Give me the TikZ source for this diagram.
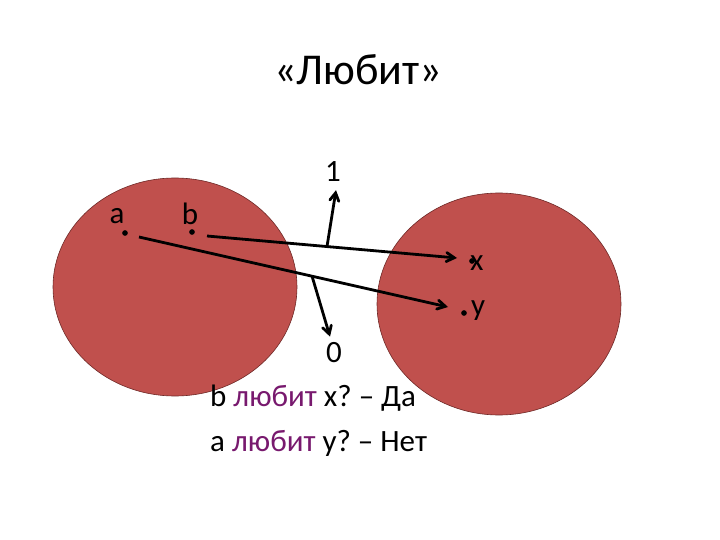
\documentclass[tikz,border=0pt]{standalone}
\usepackage{fontspec}
\setmainfont{Carlito}
\usetikzlibrary{calc}
\usetikzlibrary{arrows}
\usetikzlibrary{positioning}
\definecolor{set-red}{RGB}{192,80,77}
\definecolor{set-edge}{RGB}{110,40,38}
\definecolor{love-purple}{RGB}{120,25,110}
\frenchspacing

\begin{document}
\begin{tikzpicture}
  [
    x=1pt, y=-1pt,
    set/.style = {draw=set-edge, line width=0.6pt, fill=set-red},
    point/.style = {circle, fill=black, inner sep=2pt},
    lbl/.style = {font=\fontsize{31}{37}\selectfont, inner sep=0pt},
    map/.style = {->, >=angle 60, line width=2.8pt}
  ]
\useasboundingbox[fill=white] (0, 0) rectangle (720, 540);
% Title
\node[font=\fontsize{44}{52}\selectfont] (title) at (358, 70) {«Любит»};

% ---------------------------------------------------
% Sets
\draw[set] (175, 287) ellipse [x radius=122, y radius=109];
\draw[set] (499, 304) ellipse [x radius=122, y radius=111];

% Elements
\node[point] (a) at (125, 233) {};
\node[point] (b) at (192, 232) {};
\node[point] (x) at (472, 261) {};
\node[point] (y) at (464, 313) {};
\node[lbl] (la) at (117, 216) {a};
\node[lbl] (lb) at (190, 214) {b};
\node[lbl, anchor=west] (lx) at (470, 263) {x};
\node[lbl, anchor=west] (ly) at (471, 311) {y};

% Mappings
\coordinate[] (bs) at ($ (b) + (15, 4) $);
\coordinate[] (as) at ($ (a) + (14, 4) $);
\coordinate[] (xe) at ($ (x) + (-15, -3) $);
\coordinate[] (ye) at ($ (y) + (-16, -6) $);
\path[] (bs) edge[map] (xe);
\path[] (as) edge[map] (ye);

% Truth values
\node[lbl] (one)  at (333, 172) {1};
\node[lbl] (zero) at (334, 353) {0};
\coordinate[] (t1) at ($ (bs)!0.48!(xe) $);
\coordinate[] (t0) at ($ (as)!0.56!(ye) $);
\path[] (t1) edge[map] ($ (one.south) + (3, 8) $);
\path[] (t0) edge[map] ($ (zero.north) + (-4, -6) $);

% Questions
\node[lbl, anchor=west] (q1) at (210, 398)
  {b \textcolor{love-purple}{любит} x? – Да};
\node[lbl, anchor=west] (q2) at (210, 443)
  {a \textcolor{love-purple}{любит} y? – Нет};
% ---------------------------------------------------
\end{tikzpicture}
\end{document}
